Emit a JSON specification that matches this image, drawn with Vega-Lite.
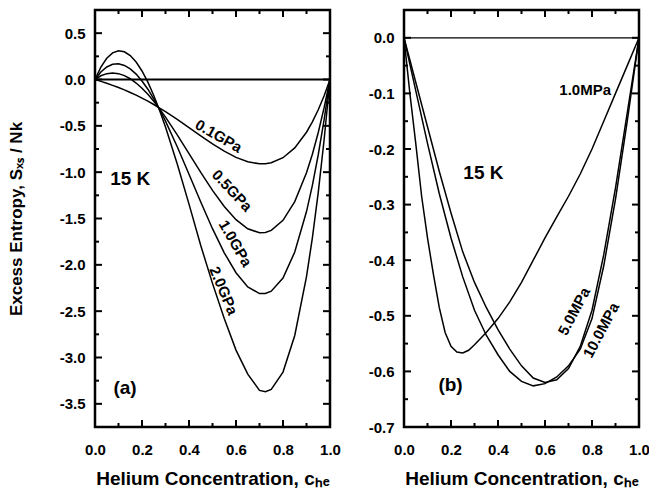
{
  "$schema": "https://vega.github.io/schema/vega-lite/v6.json",
  "background": "white",
  "padding": {"left": 5, "top": 8, "right": 5, "bottom": 5},
  "bounds": "flush",
  "spacing": 74,
  "config": {
    "font": "Liberation Sans",
    "view": {"stroke": "black", "strokeWidth": 2.5},
    "axis": {"labelFont": "Liberation Sans", "labelFontWeight": "bold", "labelFontSize": 15, "labelColor": "black", "labelFlush": false, "labelOverlap": false, "titleFont": "Liberation Sans", "titleFontWeight": "bold", "titleFontSize": 19, "titleColor": "black", "ticks": false, "domain": false, "grid": false}
  },
  "datasets": {
    "curvesA": [
      {"series":"0.1GPa","c":0,"S":0},{"series":"0.1GPa","c":0.025,"S":-0.020},{"series":"0.1GPa","c":0.05,"S":-0.041},{"series":"0.1GPa","c":0.075,"S":-0.063},{"series":"0.1GPa","c":0.1,"S":-0.087},{"series":"0.1GPa","c":0.125,"S":-0.112},{"series":"0.1GPa","c":0.15,"S":-0.140},{"series":"0.1GPa","c":0.175,"S":-0.169},{"series":"0.1GPa","c":0.2,"S":-0.201},{"series":"0.1GPa","c":0.225,"S":-0.234},{"series":"0.1GPa","c":0.25,"S":-0.270},{"series":"0.1GPa","c":0.275,"S":-0.308},{"series":"0.1GPa","c":0.3,"S":-0.347},{"series":"0.1GPa","c":0.35,"S":-0.431},{"series":"0.1GPa","c":0.4,"S":-0.519},{"series":"0.1GPa","c":0.45,"S":-0.608},{"series":"0.1GPa","c":0.5,"S":-0.694},{"series":"0.1GPa","c":0.55,"S":-0.774},{"series":"0.1GPa","c":0.6,"S":-0.840},{"series":"0.1GPa","c":0.65,"S":-0.888},{"series":"0.1GPa","c":0.7,"S":-0.910},{"series":"0.1GPa","c":0.725,"S":-0.909},{"series":"0.1GPa","c":0.75,"S":-0.899},{"series":"0.1GPa","c":0.8,"S":-0.844},{"series":"0.1GPa","c":0.85,"S":-0.738},{"series":"0.1GPa","c":0.9,"S":-0.569},{"series":"0.1GPa","c":0.925,"S":-0.458},{"series":"0.1GPa","c":0.95,"S":-0.327},{"series":"0.1GPa","c":0.975,"S":-0.175},{"series":"0.1GPa","c":1,"S":0},
      {"series":"0.5GPa","c":0,"S":0},{"series":"0.5GPa","c":0.025,"S":0.040},{"series":"0.5GPa","c":0.05,"S":0.063},{"series":"0.5GPa","c":0.075,"S":0.070},{"series":"0.5GPa","c":0.1,"S":0.063},{"series":"0.5GPa","c":0.125,"S":0.042},{"series":"0.5GPa","c":0.15,"S":0.008},{"series":"0.5GPa","c":0.175,"S":-0.038},{"series":"0.5GPa","c":0.2,"S":-0.094},{"series":"0.5GPa","c":0.225,"S":-0.160},{"series":"0.5GPa","c":0.25,"S":-0.235},{"series":"0.5GPa","c":0.275,"S":-0.317},{"series":"0.5GPa","c":0.3,"S":-0.406},{"series":"0.5GPa","c":0.35,"S":-0.597},{"series":"0.5GPa","c":0.4,"S":-0.799},{"series":"0.5GPa","c":0.45,"S":-1.003},{"series":"0.5GPa","c":0.5,"S":-1.197},{"series":"0.5GPa","c":0.55,"S":-1.371},{"series":"0.5GPa","c":0.6,"S":-1.513},{"series":"0.5GPa","c":0.65,"S":-1.611},{"series":"0.5GPa","c":0.7,"S":-1.654},{"series":"0.5GPa","c":0.725,"S":-1.650},{"series":"0.5GPa","c":0.75,"S":-1.628},{"series":"0.5GPa","c":0.8,"S":-1.520},{"series":"0.5GPa","c":0.85,"S":-1.318},{"series":"0.5GPa","c":0.9,"S":-1.007},{"series":"0.5GPa","c":0.925,"S":-0.806},{"series":"0.5GPa","c":0.95,"S":-0.572},{"series":"0.5GPa","c":0.975,"S":-0.304},{"series":"0.5GPa","c":1,"S":0},
      {"series":"1.0GPa","c":0,"S":0},{"series":"1.0GPa","c":0.025,"S":0.081},{"series":"1.0GPa","c":0.05,"S":0.135},{"series":"1.0GPa","c":0.075,"S":0.164},{"series":"1.0GPa","c":0.1,"S":0.169},{"series":"1.0GPa","c":0.125,"S":0.152},{"series":"1.0GPa","c":0.15,"S":0.115},{"series":"1.0GPa","c":0.175,"S":0.058},{"series":"1.0GPa","c":0.2,"S":-0.016},{"series":"1.0GPa","c":0.225,"S":-0.105},{"series":"1.0GPa","c":0.25,"S":-0.209},{"series":"1.0GPa","c":0.275,"S":-0.324},{"series":"1.0GPa","c":0.3,"S":-0.450},{"series":"1.0GPa","c":0.35,"S":-0.726},{"series":"1.0GPa","c":0.4,"S":-1.022},{"series":"1.0GPa","c":0.45,"S":-1.322},{"series":"1.0GPa","c":0.5,"S":-1.610},{"series":"1.0GPa","c":0.55,"S":-1.870},{"series":"1.0GPa","c":0.6,"S":-2.085},{"series":"1.0GPa","c":0.65,"S":-2.238},{"series":"1.0GPa","c":0.7,"S":-2.310},{"series":"1.0GPa","c":0.725,"S":-2.310},{"series":"1.0GPa","c":0.75,"S":-2.285},{"series":"1.0GPa","c":0.8,"S":-2.142},{"series":"1.0GPa","c":0.85,"S":-1.862},{"series":"1.0GPa","c":0.9,"S":-1.425},{"series":"1.0GPa","c":0.925,"S":-1.142},{"series":"1.0GPa","c":0.95,"S":-0.812},{"series":"1.0GPa","c":0.975,"S":-0.432},{"series":"1.0GPa","c":1,"S":0},
      {"series":"2.0GPa","c":0,"S":0},{"series":"2.0GPa","c":0.025,"S":0.134},{"series":"2.0GPa","c":0.05,"S":0.229},{"series":"2.0GPa","c":0.075,"S":0.287},{"series":"2.0GPa","c":0.1,"S":0.310},{"series":"2.0GPa","c":0.125,"S":0.299},{"series":"2.0GPa","c":0.15,"S":0.258},{"series":"2.0GPa","c":0.175,"S":0.188},{"series":"2.0GPa","c":0.2,"S":0.092},{"series":"2.0GPa","c":0.225,"S":-0.029},{"series":"2.0GPa","c":0.25,"S":-0.172},{"series":"2.0GPa","c":0.275,"S":-0.334},{"series":"2.0GPa","c":0.3,"S":-0.513},{"series":"2.0GPa","c":0.35,"S":-0.911},{"series":"2.0GPa","c":0.4,"S":-1.345},{"series":"2.0GPa","c":0.45,"S":-1.792},{"series":"2.0GPa","c":0.5,"S":-2.200},{"series":"2.0GPa","c":0.55,"S":-2.580},{"series":"2.0GPa","c":0.6,"S":-2.920},{"series":"2.0GPa","c":0.65,"S":-3.180},{"series":"2.0GPa","c":0.7,"S":-3.355},{"series":"2.0GPa","c":0.725,"S":-3.370},{"series":"2.0GPa","c":0.75,"S":-3.345},{"series":"2.0GPa","c":0.8,"S":-3.157},{"series":"2.0GPa","c":0.85,"S":-2.762},{"series":"2.0GPa","c":0.9,"S":-2.127},{"series":"2.0GPa","c":0.925,"S":-1.709},{"series":"2.0GPa","c":0.95,"S":-1.218},{"series":"2.0GPa","c":0.975,"S":-0.650},{"series":"2.0GPa","c":1,"S":0}
    ],
    "curvesB": [
      {"series":"1.0MPa","c":0,"S":0},{"series":"1.0MPa","c":0.025,"S":-0.10},{"series":"1.0MPa","c":0.05,"S":-0.19},{"series":"1.0MPa","c":0.075,"S":-0.285},{"series":"1.0MPa","c":0.1,"S":-0.36},{"series":"1.0MPa","c":0.125,"S":-0.425},{"series":"1.0MPa","c":0.15,"S":-0.485},{"series":"1.0MPa","c":0.175,"S":-0.53},{"series":"1.0MPa","c":0.2,"S":-0.555},{"series":"1.0MPa","c":0.225,"S":-0.565},{"series":"1.0MPa","c":0.25,"S":-0.567},{"series":"1.0MPa","c":0.275,"S":-0.562},{"series":"1.0MPa","c":0.3,"S":-0.552},{"series":"1.0MPa","c":0.35,"S":-0.53},{"series":"1.0MPa","c":0.4,"S":-0.505},{"series":"1.0MPa","c":0.45,"S":-0.475},{"series":"1.0MPa","c":0.5,"S":-0.44},{"series":"1.0MPa","c":0.55,"S":-0.40},{"series":"1.0MPa","c":0.6,"S":-0.36},{"series":"1.0MPa","c":0.65,"S":-0.322},{"series":"1.0MPa","c":0.7,"S":-0.285},{"series":"1.0MPa","c":0.75,"S":-0.245},{"series":"1.0MPa","c":0.8,"S":-0.20},{"series":"1.0MPa","c":0.85,"S":-0.15},{"series":"1.0MPa","c":0.9,"S":-0.10},{"series":"1.0MPa","c":0.95,"S":-0.05},{"series":"1.0MPa","c":1,"S":0},
      {"series":"5.0MPa","c":0,"S":0},{"series":"5.0MPa","c":0.05,"S":-0.095},{"series":"5.0MPa","c":0.1,"S":-0.19},{"series":"5.0MPa","c":0.15,"S":-0.28},{"series":"5.0MPa","c":0.2,"S":-0.36},{"series":"5.0MPa","c":0.25,"S":-0.43},{"series":"5.0MPa","c":0.3,"S":-0.49},{"series":"5.0MPa","c":0.35,"S":-0.535},{"series":"5.0MPa","c":0.4,"S":-0.57},{"series":"5.0MPa","c":0.45,"S":-0.60},{"series":"5.0MPa","c":0.5,"S":-0.618},{"series":"5.0MPa","c":0.55,"S":-0.626},{"series":"5.0MPa","c":0.6,"S":-0.622},{"series":"5.0MPa","c":0.65,"S":-0.61},{"series":"5.0MPa","c":0.7,"S":-0.59},{"series":"5.0MPa","c":0.75,"S":-0.56},{"series":"5.0MPa","c":0.8,"S":-0.505},{"series":"5.0MPa","c":0.85,"S":-0.41},{"series":"5.0MPa","c":0.9,"S":-0.29},{"series":"5.0MPa","c":0.95,"S":-0.15},{"series":"5.0MPa","c":1,"S":0},
      {"series":"10.0MPa","c":0,"S":0},{"series":"10.0MPa","c":0.05,"S":-0.08},{"series":"10.0MPa","c":0.1,"S":-0.16},{"series":"10.0MPa","c":0.15,"S":-0.24},{"series":"10.0MPa","c":0.2,"S":-0.315},{"series":"10.0MPa","c":0.25,"S":-0.385},{"series":"10.0MPa","c":0.3,"S":-0.44},{"series":"10.0MPa","c":0.35,"S":-0.485},{"series":"10.0MPa","c":0.4,"S":-0.525},{"series":"10.0MPa","c":0.45,"S":-0.56},{"series":"10.0MPa","c":0.5,"S":-0.59},{"series":"10.0MPa","c":0.55,"S":-0.612},{"series":"10.0MPa","c":0.6,"S":-0.62},{"series":"10.0MPa","c":0.65,"S":-0.615},{"series":"10.0MPa","c":0.7,"S":-0.595},{"series":"10.0MPa","c":0.75,"S":-0.555},{"series":"10.0MPa","c":0.8,"S":-0.49},{"series":"10.0MPa","c":0.85,"S":-0.39},{"series":"10.0MPa","c":0.9,"S":-0.27},{"series":"10.0MPa","c":0.95,"S":-0.135},{"series":"10.0MPa","c":1,"S":0}
    ],
    "xticksA": [
      {"c":0.2,"S":-3.75,"kind":"major"},{"c":0.4,"S":-3.75,"kind":"major"},{"c":0.6,"S":-3.75,"kind":"major"},{"c":0.8,"S":-3.75,"kind":"major"},
      {"c":0.1,"S":-3.75,"kind":"minor"},{"c":0.3,"S":-3.75,"kind":"minor"},{"c":0.5,"S":-3.75,"kind":"minor"},{"c":0.7,"S":-3.75,"kind":"minor"},{"c":0.9,"S":-3.75,"kind":"minor"},
      {"c":0.2,"S":0.75,"kind":"major"},{"c":0.4,"S":0.75,"kind":"major"},{"c":0.6,"S":0.75,"kind":"major"},{"c":0.8,"S":0.75,"kind":"major"},
      {"c":0.1,"S":0.75,"kind":"minor"},{"c":0.3,"S":0.75,"kind":"minor"},{"c":0.5,"S":0.75,"kind":"minor"},{"c":0.7,"S":0.75,"kind":"minor"},{"c":0.9,"S":0.75,"kind":"minor"}
    ],
    "yticksA": [
      {"c":0,"S":-3.5,"kind":"major"},{"c":0,"S":-3,"kind":"major"},{"c":0,"S":-2.5,"kind":"major"},{"c":0,"S":-2,"kind":"major"},{"c":0,"S":-1.5,"kind":"major"},{"c":0,"S":-1,"kind":"major"},{"c":0,"S":-0.5,"kind":"major"},{"c":0,"S":0,"kind":"major"},{"c":0,"S":0.5,"kind":"major"},
      {"c":0,"S":-3.25,"kind":"minor"},{"c":0,"S":-2.75,"kind":"minor"},{"c":0,"S":-2.25,"kind":"minor"},{"c":0,"S":-1.75,"kind":"minor"},{"c":0,"S":-1.25,"kind":"minor"},{"c":0,"S":-0.75,"kind":"minor"},{"c":0,"S":-0.25,"kind":"minor"},{"c":0,"S":0.25,"kind":"minor"},
      {"c":1,"S":-3.5,"kind":"major"},{"c":1,"S":-3,"kind":"major"},{"c":1,"S":-2.5,"kind":"major"},{"c":1,"S":-2,"kind":"major"},{"c":1,"S":-1.5,"kind":"major"},{"c":1,"S":-1,"kind":"major"},{"c":1,"S":-0.5,"kind":"major"},{"c":1,"S":0,"kind":"major"},{"c":1,"S":0.5,"kind":"major"},
      {"c":1,"S":-3.25,"kind":"minor"},{"c":1,"S":-2.75,"kind":"minor"},{"c":1,"S":-2.25,"kind":"minor"},{"c":1,"S":-1.75,"kind":"minor"},{"c":1,"S":-1.25,"kind":"minor"},{"c":1,"S":-0.75,"kind":"minor"},{"c":1,"S":-0.25,"kind":"minor"},{"c":1,"S":0.25,"kind":"minor"}
    ],
    "xticksB": [
      {"c":0.2,"S":-0.7,"kind":"major"},{"c":0.4,"S":-0.7,"kind":"major"},{"c":0.6,"S":-0.7,"kind":"major"},{"c":0.8,"S":-0.7,"kind":"major"},
      {"c":0.1,"S":-0.7,"kind":"minor"},{"c":0.3,"S":-0.7,"kind":"minor"},{"c":0.5,"S":-0.7,"kind":"minor"},{"c":0.7,"S":-0.7,"kind":"minor"},{"c":0.9,"S":-0.7,"kind":"minor"},
      {"c":0.2,"S":0.05,"kind":"major"},{"c":0.4,"S":0.05,"kind":"major"},{"c":0.6,"S":0.05,"kind":"major"},{"c":0.8,"S":0.05,"kind":"major"},
      {"c":0.1,"S":0.05,"kind":"minor"},{"c":0.3,"S":0.05,"kind":"minor"},{"c":0.5,"S":0.05,"kind":"minor"},{"c":0.7,"S":0.05,"kind":"minor"},{"c":0.9,"S":0.05,"kind":"minor"}
    ],
    "yticksB": [
      {"c":0,"S":-0.6,"kind":"major"},{"c":0,"S":-0.5,"kind":"major"},{"c":0,"S":-0.4,"kind":"major"},{"c":0,"S":-0.3,"kind":"major"},{"c":0,"S":-0.2,"kind":"major"},{"c":0,"S":-0.1,"kind":"major"},{"c":0,"S":0,"kind":"major"},
      {"c":0,"S":-0.65,"kind":"minor"},{"c":0,"S":-0.55,"kind":"minor"},{"c":0,"S":-0.45,"kind":"minor"},{"c":0,"S":-0.35,"kind":"minor"},{"c":0,"S":-0.25,"kind":"minor"},{"c":0,"S":-0.15,"kind":"minor"},{"c":0,"S":-0.05,"kind":"minor"},
      {"c":1,"S":-0.6,"kind":"major"},{"c":1,"S":-0.5,"kind":"major"},{"c":1,"S":-0.4,"kind":"major"},{"c":1,"S":-0.3,"kind":"major"},{"c":1,"S":-0.2,"kind":"major"},{"c":1,"S":-0.1,"kind":"major"},{"c":1,"S":0,"kind":"major"},
      {"c":1,"S":-0.65,"kind":"minor"},{"c":1,"S":-0.55,"kind":"minor"},{"c":1,"S":-0.45,"kind":"minor"},{"c":1,"S":-0.35,"kind":"minor"},{"c":1,"S":-0.25,"kind":"minor"},{"c":1,"S":-0.15,"kind":"minor"},{"c":1,"S":-0.05,"kind":"minor"}
    ]
  },
  "hconcat": [
    {
      "width": 235,
      "height": 417,
      "layer": [
        {
          "data": {"values": [{"S": 0}]},
          "mark": {"type": "rule", "color": "black", "strokeWidth": 2},
          "encoding": {"y": {"field": "S", "type": "quantitative", "scale": {"domain": [-3.75, 0.75], "nice": false, "zero": false}}}
        },
        {
          "data": {"name": "xticksA"},
          "mark": {"type": "tick", "orient": "vertical", "thickness": 2, "color": "black", "opacity": 1, "clip": true},
          "encoding": {
            "x": {"field": "c", "type": "quantitative", "scale": {"domain": [0, 1], "nice": false}},
            "y": {"field": "S", "type": "quantitative", "scale": {"domain": [-3.75, 0.75], "nice": false, "zero": false}},
            "size": {"field": "kind", "type": "ordinal", "scale": {"domain": ["major", "minor"], "range": [14, 8]}, "legend": null}
          }
        },
        {
          "data": {"name": "yticksA"},
          "mark": {"type": "tick", "orient": "horizontal", "thickness": 2, "color": "black", "opacity": 1, "clip": true},
          "encoding": {
            "x": {"field": "c", "type": "quantitative", "scale": {"domain": [0, 1], "nice": false}},
            "y": {"field": "S", "type": "quantitative", "scale": {"domain": [-3.75, 0.75], "nice": false, "zero": false}},
            "size": {"field": "kind", "type": "ordinal", "scale": {"domain": ["major", "minor"], "range": [14, 8]}, "legend": null}
          }
        },
        {
          "data": {"name": "curvesA"},
          "mark": {"type": "line", "color": "black", "strokeWidth": 1.5},
          "encoding": {
            "x": {"field": "c", "type": "quantitative", "scale": {"domain": [0, 1], "nice": false}, "axis": {"orient": "bottom", "values": [0, 0.2, 0.4, 0.6, 0.8, 1], "format": ".1f", "labelPadding": 15, "title": "Helium Concentration, cₕₑ", "titlePadding": 12}},
            "y": {"field": "S", "type": "quantitative", "scale": {"domain": [-3.75, 0.75], "nice": false, "zero": false}, "axis": {"orient": "left", "values": [-3.5, -3, -2.5, -2, -1.5, -1, -0.5, 0, 0.5], "labelExpr": "(datum.value < 0 ? '-' : '') + format(abs(datum.value), '.1f')", "labelPadding": 10, "title": "Excess Entropy, Sₓₛ / Nk", "titleFontSize": 17, "titlePadding": 34}},
            "detail": {"field": "series"}
          }
        },
        {
          "data": {"values": [{"label": "15 K", "c": 0.15, "S": -1.07}, {"label": "(a)", "c": 0.128, "S": -3.33}]},
          "mark": {"type": "text", "fontSize": 19, "fontWeight": "bold", "font": "Liberation Sans", "align": "center", "baseline": "middle", "color": "black"},
          "encoding": {
            "x": {"field": "c", "type": "quantitative", "scale": {"domain": [0, 1], "nice": false}},
            "y": {"field": "S", "type": "quantitative", "scale": {"domain": [-3.75, 0.75], "nice": false, "zero": false}},
            "text": {"field": "label"}
          }
        },
        {
          "data": {"values": [{"label": "0.1GPa", "c": 0.526, "S": -0.61}]},
          "mark": {"type": "text", "fontSize": 15, "fontWeight": "bold", "font": "Liberation Sans", "align": "center", "baseline": "middle", "angle": 30, "color": "black"},
          "encoding": {
            "x": {"field": "c", "type": "quantitative", "scale": {"domain": [0, 1], "nice": false}},
            "y": {"field": "S", "type": "quantitative", "scale": {"domain": [-3.75, 0.75], "nice": false, "zero": false}},
            "text": {"field": "label"}
          }
        },
        {
          "data": {"values": [{"label": "0.5GPa", "c": 0.583, "S": -1.2}]},
          "mark": {"type": "text", "fontSize": 15, "fontWeight": "bold", "font": "Liberation Sans", "align": "center", "baseline": "middle", "angle": 47, "color": "black"},
          "encoding": {
            "x": {"field": "c", "type": "quantitative", "scale": {"domain": [0, 1], "nice": false}},
            "y": {"field": "S", "type": "quantitative", "scale": {"domain": [-3.75, 0.75], "nice": false, "zero": false}},
            "text": {"field": "label"}
          }
        },
        {
          "data": {"values": [{"label": "1.0GPa", "c": 0.597, "S": -1.77}]},
          "mark": {"type": "text", "fontSize": 15, "fontWeight": "bold", "font": "Liberation Sans", "align": "center", "baseline": "middle", "angle": 60, "color": "black"},
          "encoding": {
            "x": {"field": "c", "type": "quantitative", "scale": {"domain": [0, 1], "nice": false}},
            "y": {"field": "S", "type": "quantitative", "scale": {"domain": [-3.75, 0.75], "nice": false, "zero": false}},
            "text": {"field": "label"}
          }
        },
        {
          "data": {"values": [{"label": "2.0GPa", "c": 0.547, "S": -2.28}]},
          "mark": {"type": "text", "fontSize": 15, "fontWeight": "bold", "font": "Liberation Sans", "align": "center", "baseline": "middle", "angle": 67, "color": "black"},
          "encoding": {
            "x": {"field": "c", "type": "quantitative", "scale": {"domain": [0, 1], "nice": false}},
            "y": {"field": "S", "type": "quantitative", "scale": {"domain": [-3.75, 0.75], "nice": false, "zero": false}},
            "text": {"field": "label"}
          }
        }
      ]
    },
    {
      "width": 235,
      "height": 417,
      "layer": [
        {
          "data": {"values": [{"S": 0}]},
          "mark": {"type": "rule", "color": "black", "strokeWidth": 1.3},
          "encoding": {"y": {"field": "S", "type": "quantitative", "scale": {"domain": [-0.7, 0.05], "nice": false, "zero": false}}}
        },
        {
          "data": {"name": "xticksB"},
          "mark": {"type": "tick", "orient": "vertical", "thickness": 2, "color": "black", "opacity": 1, "clip": true},
          "encoding": {
            "x": {"field": "c", "type": "quantitative", "scale": {"domain": [0, 1], "nice": false}},
            "y": {"field": "S", "type": "quantitative", "scale": {"domain": [-0.7, 0.05], "nice": false, "zero": false}},
            "size": {"field": "kind", "type": "ordinal", "scale": {"domain": ["major", "minor"], "range": [14, 8]}, "legend": null}
          }
        },
        {
          "data": {"name": "yticksB"},
          "mark": {"type": "tick", "orient": "horizontal", "thickness": 2, "color": "black", "opacity": 1, "clip": true},
          "encoding": {
            "x": {"field": "c", "type": "quantitative", "scale": {"domain": [0, 1], "nice": false}},
            "y": {"field": "S", "type": "quantitative", "scale": {"domain": [-0.7, 0.05], "nice": false, "zero": false}},
            "size": {"field": "kind", "type": "ordinal", "scale": {"domain": ["major", "minor"], "range": [14, 8]}, "legend": null}
          }
        },
        {
          "data": {"name": "curvesB"},
          "mark": {"type": "line", "color": "black", "strokeWidth": 1.5},
          "encoding": {
            "x": {"field": "c", "type": "quantitative", "scale": {"domain": [0, 1], "nice": false}, "axis": {"orient": "bottom", "values": [0, 0.2, 0.4, 0.6, 0.8, 1], "format": ".1f", "labelPadding": 15, "title": "Helium Concentration, cₕₑ", "titlePadding": 12}},
            "y": {"field": "S", "type": "quantitative", "scale": {"domain": [-0.7, 0.05], "nice": false, "zero": false}, "axis": {"orient": "left", "values": [-0.7, -0.6, -0.5, -0.4, -0.3, -0.2, -0.1, 0], "labelExpr": "(datum.value < 0 ? '-' : '') + format(abs(datum.value), '.1f')", "labelPadding": 10, "title": ""}},
            "detail": {"field": "series"}
          }
        },
        {
          "data": {"values": [{"label": "15 K", "c": 0.338, "S": -0.243}, {"label": "(b)", "c": 0.198, "S": -0.625}]},
          "mark": {"type": "text", "fontSize": 19, "fontWeight": "bold", "font": "Liberation Sans", "align": "center", "baseline": "middle", "color": "black"},
          "encoding": {
            "x": {"field": "c", "type": "quantitative", "scale": {"domain": [0, 1], "nice": false}},
            "y": {"field": "S", "type": "quantitative", "scale": {"domain": [-0.7, 0.05], "nice": false, "zero": false}},
            "text": {"field": "label"}
          }
        },
        {
          "data": {"values": [{"label": "1.0MPa", "c": 0.771, "S": -0.094}]},
          "mark": {"type": "text", "fontSize": 15, "fontWeight": "bold", "font": "Liberation Sans", "align": "center", "baseline": "middle", "color": "black"},
          "encoding": {
            "x": {"field": "c", "type": "quantitative", "scale": {"domain": [0, 1], "nice": false}},
            "y": {"field": "S", "type": "quantitative", "scale": {"domain": [-0.7, 0.05], "nice": false, "zero": false}},
            "text": {"field": "label"}
          }
        },
        {
          "data": {"values": [{"label": "5.0MPa", "c": 0.724, "S": -0.492}]},
          "mark": {"type": "text", "fontSize": 15, "fontWeight": "bold", "font": "Liberation Sans", "align": "center", "baseline": "middle", "angle": -62, "color": "black"},
          "encoding": {
            "x": {"field": "c", "type": "quantitative", "scale": {"domain": [0, 1], "nice": false}},
            "y": {"field": "S", "type": "quantitative", "scale": {"domain": [-0.7, 0.05], "nice": false, "zero": false}},
            "text": {"field": "label"}
          }
        },
        {
          "data": {"values": [{"label": "10.0MPa", "c": 0.839, "S": -0.526}]},
          "mark": {"type": "text", "fontSize": 15, "fontWeight": "bold", "font": "Liberation Sans", "align": "center", "baseline": "middle", "angle": -62, "color": "black"},
          "encoding": {
            "x": {"field": "c", "type": "quantitative", "scale": {"domain": [0, 1], "nice": false}},
            "y": {"field": "S", "type": "quantitative", "scale": {"domain": [-0.7, 0.05], "nice": false, "zero": false}},
            "text": {"field": "label"}
          }
        }
      ]
    }
  ]
}
